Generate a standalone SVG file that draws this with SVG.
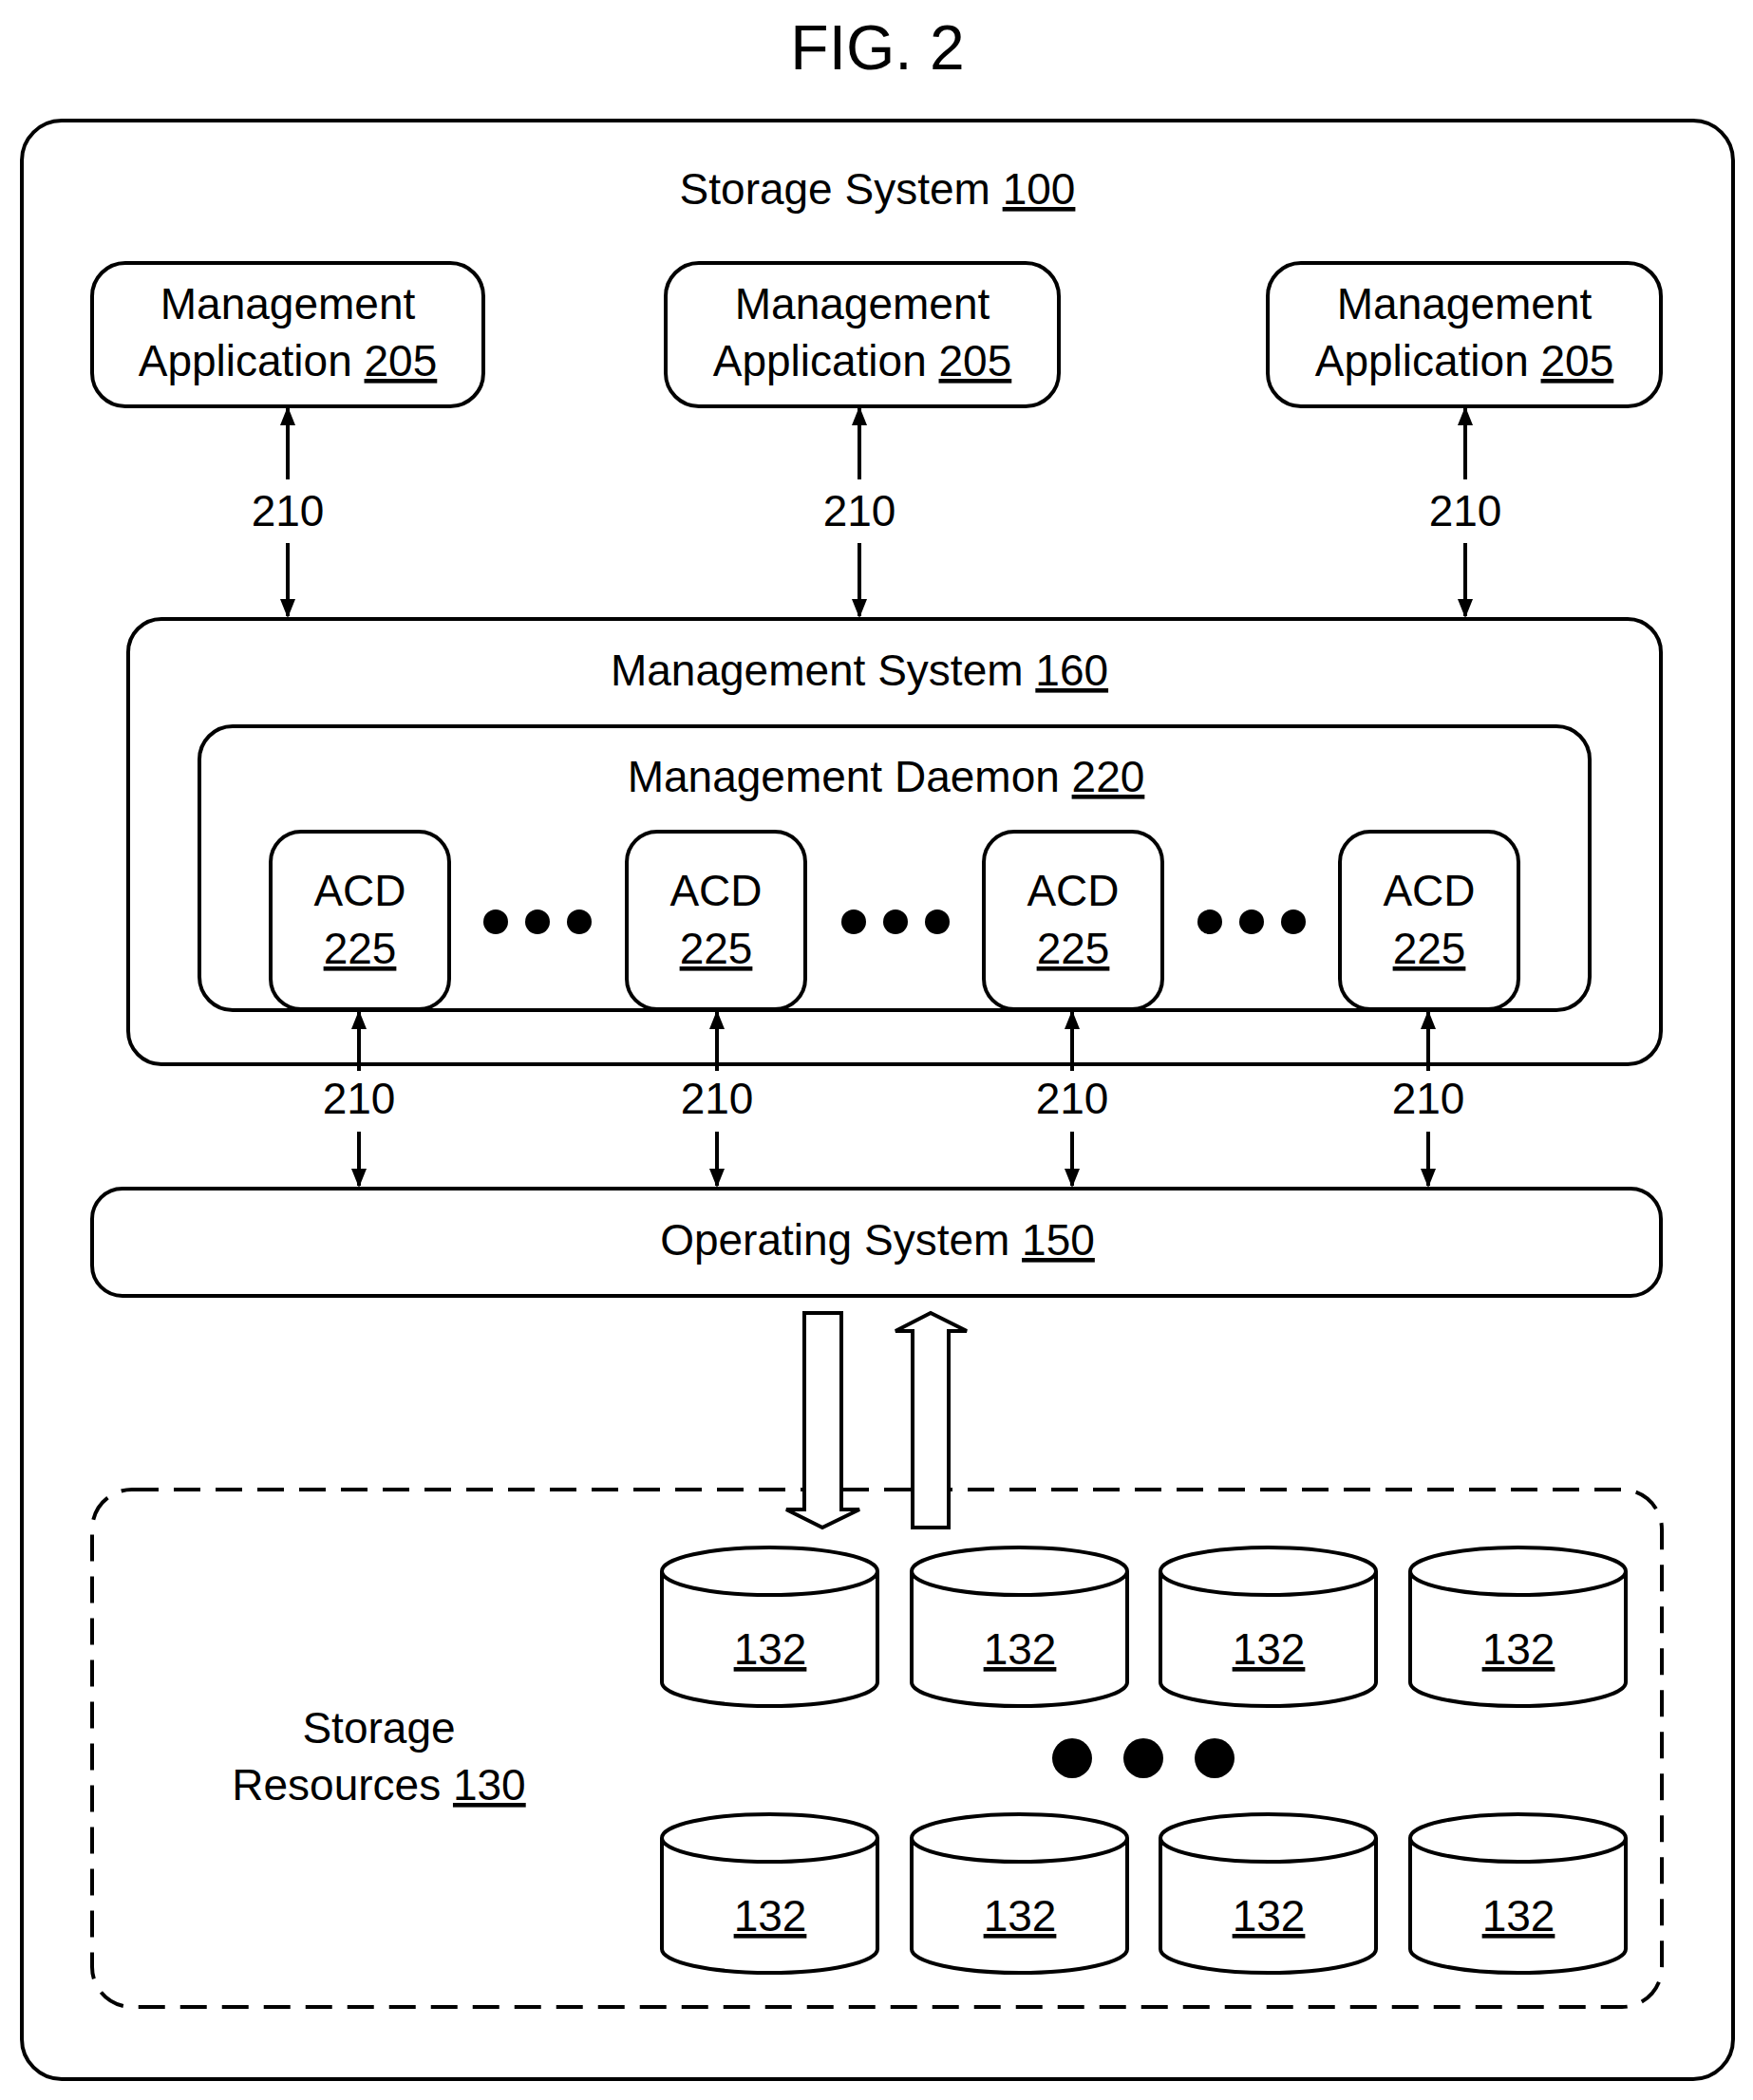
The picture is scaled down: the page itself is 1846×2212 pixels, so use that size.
<svg xmlns="http://www.w3.org/2000/svg" width="1846" height="2212" viewBox="0 0 1846 2212">
<style>
text{font-family:"Liberation Sans",Arial,sans-serif;font-size:46px;fill:#000;text-anchor:middle}
.u{text-decoration:underline}
.box{fill:#fff;stroke:#000;stroke-width:4}
.ln{stroke:#000;stroke-width:4;fill:none;marker-start:url(#ah);marker-end:url(#ah)}
</style>
<defs>
<marker id="ah" viewBox="0 0 10 10" refX="9" refY="5" markerWidth="5" markerHeight="5" orient="auto-start-reverse" markerUnits="strokeWidth"><path d="M0,1 L10,5 L0,9 Z" fill="#000"/></marker>
<g id="cyl"><path class="box" d="M0,25 L0,142 A113.5,25 0 0 0 227,142 L227,25"/><ellipse class="box" cx="113.5" cy="25" rx="113.5" ry="25"/></g>
</defs>
<rect width="1846" height="2212" fill="#fff"/>
<text x="924" y="73" style="font-size:66px">FIG. 2</text>
<g id="storage-system"><rect class="box" x="23" y="127" width="1802" height="2063" rx="42"/>
<text x="924" y="215">Storage System <tspan class="u">100</tspan></text></g>
<g id="app1"><rect class="box" x="97" y="277" width="412" height="151" rx="35"/><text x="303" y="336">Management</text><text x="303" y="396">Application <tspan class="u">205</tspan></text></g>
<g id="app2"><rect class="box" x="701" y="277" width="414" height="151" rx="35"/><text x="908" y="336">Management</text><text x="908" y="396">Application <tspan class="u">205</tspan></text></g>
<g id="app3"><rect class="box" x="1335" y="277" width="414" height="151" rx="35"/><text x="1542" y="336">Management</text><text x="1542" y="396">Application <tspan class="u">205</tspan></text></g>
<g id="mgmt-system"><rect class="box" x="135" y="652" width="1614" height="469" rx="35"/><text x="905" y="722">Management System <tspan class="u">160</tspan></text></g>
<g id="daemon"><rect class="box" x="210" y="765" width="1464" height="299" rx="35"/><text x="933" y="834">Management Daemon <tspan class="u">220</tspan></text></g>
<g id="acd1"><rect class="box" x="285" y="876" width="188" height="187" rx="32"/><text x="379" y="954">ACD</text><text x="379" y="1015" class="u">225</text></g>
<g id="acd2"><rect class="box" x="660" y="876" width="188" height="187" rx="32"/><text x="754" y="954">ACD</text><text x="754" y="1015" class="u">225</text></g>
<g id="acd3"><rect class="box" x="1036" y="876" width="188" height="187" rx="32"/><text x="1130" y="954">ACD</text><text x="1130" y="1015" class="u">225</text></g>
<g id="acd4"><rect class="box" x="1411" y="876" width="188" height="187" rx="32"/><text x="1505" y="954">ACD</text><text x="1505" y="1015" class="u">225</text></g>
<g id="dots">
<circle cx="522" cy="971" r="13"/><circle cx="566" cy="971" r="13"/><circle cx="610" cy="971" r="13"/>
<circle cx="899" cy="971" r="13"/><circle cx="943" cy="971" r="13"/><circle cx="987" cy="971" r="13"/>
<circle cx="1274" cy="971" r="13"/><circle cx="1318" cy="971" r="13"/><circle cx="1362" cy="971" r="13"/>
<circle cx="1129" cy="1852" r="21"/><circle cx="1204" cy="1852" r="21"/><circle cx="1279" cy="1852" r="21"/>
</g>
<g id="os"><rect class="box" x="97" y="1252" width="1652" height="113" rx="32"/><text x="924" y="1322">Operating System <tspan class="u">150</tspan></text></g>
<g id="storage-resources"><rect x="97" y="1569" width="1653" height="545" rx="42" fill="none" stroke="#000" stroke-width="4" stroke-dasharray="28,16"/>
<text x="399" y="1836">Storage</text><text x="399" y="1896">Resources <tspan class="u">130</tspan></text>
<use href="#cyl" x="697" y="1630"/><use href="#cyl" x="960" y="1630"/><use href="#cyl" x="1222" y="1630"/><use href="#cyl" x="1485" y="1630"/>
<use href="#cyl" x="697" y="1911"/><use href="#cyl" x="960" y="1911"/><use href="#cyl" x="1222" y="1911"/><use href="#cyl" x="1485" y="1911"/>
<text x="811" y="1753" class="u">132</text><text x="1074" y="1753" class="u">132</text><text x="1336" y="1753" class="u">132</text><text x="1599" y="1753" class="u">132</text>
<text x="811" y="2034" class="u">132</text><text x="1074" y="2034" class="u">132</text><text x="1336" y="2034" class="u">132</text><text x="1599" y="2034" class="u">132</text>
</g>
<g id="connectors">
<path class="ln" d="M303,430 V505" style="marker-end:none"/><path class="ln" d="M303,572 V649" style="marker-start:none"/>
<path class="ln" d="M905,430 V505" style="marker-end:none"/><path class="ln" d="M905,572 V649" style="marker-start:none"/>
<path class="ln" d="M1543,430 V505" style="marker-end:none"/><path class="ln" d="M1543,572 V649" style="marker-start:none"/>
<text x="303" y="554">210</text><text x="905" y="554">210</text><text x="1543" y="554">210</text>
<path class="ln" d="M378,1066 V1128" style="marker-end:none"/><path class="ln" d="M378,1192 V1249" style="marker-start:none"/>
<path class="ln" d="M755,1066 V1128" style="marker-end:none"/><path class="ln" d="M755,1192 V1249" style="marker-start:none"/>
<path class="ln" d="M1129,1066 V1128" style="marker-end:none"/><path class="ln" d="M1129,1192 V1249" style="marker-start:none"/>
<path class="ln" d="M1504,1066 V1128" style="marker-end:none"/><path class="ln" d="M1504,1192 V1249" style="marker-start:none"/>
<text x="378" y="1173">210</text><text x="755" y="1173">210</text><text x="1129" y="1173">210</text><text x="1504" y="1173">210</text>
<path class="box" d="M847,1383 H886 V1590 H905 L866,1609 L828,1590 H847 Z"/>
<path class="box" d="M961,1609 H999 V1402 H1018 L980,1383 L943,1402 H961 Z"/>
</g>
</svg>
